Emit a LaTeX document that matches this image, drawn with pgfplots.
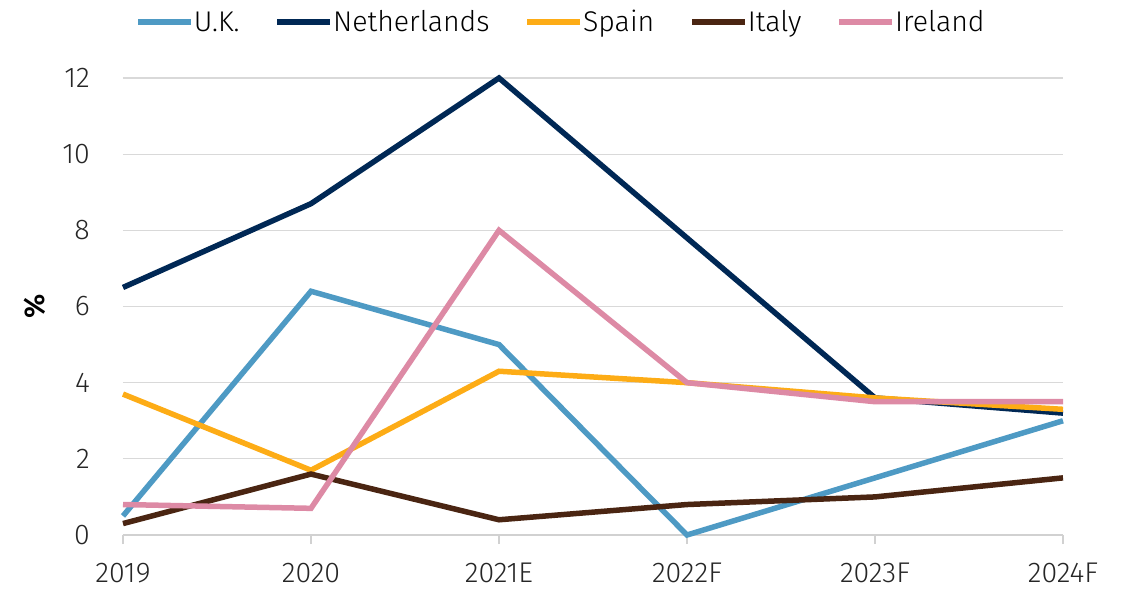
\documentclass[border=0pt]{standalone}
\usepackage{fontspec}
\setmainfont{Fira Sans Light}[BoldFont={Fira Sans SemiBold}]
\usepackage{pgfplots}
\pgfplotsset{compat=1.18}
\definecolor{cuk}{RGB}{78,154,196}
\definecolor{cnl}{RGB}{0,40,85}
\definecolor{csp}{RGB}{253,172,22}
\definecolor{cit}{RGB}{74,37,18}
\definecolor{cie}{RGB}{221,138,165}
\newcommand\ff{\fontsize{28.5bp}{33bp}\selectfont}
\begin{document}
\begin{tikzpicture}
\path[use as bounding box] (-123bp,-55bp) rectangle (1009bp,535bp);
\begin{axis}[
  scale only axis, width=940bp, height=457bp,
  xmin=0, xmax=5, ymin=0, ymax=12,
  xtick={0,1,2,3,4,5},
  xticklabels={2019,2020,2021E,2022F,2023F,2024F},
  ytick={0,2,4,6,8,10,12},
  /pgf/number format/assume math mode=true,
  axis x line*=bottom, axis y line*=left,
  y axis line style={draw=none},
  x axis line style={-, draw=black!18, line width=1.3bp},
  ymajorgrids, grid style={draw=black!15, line width=1.3bp},
  tick align=outside, major tick length=9bp,
  xtick style={draw=black!18, line width=1.3bp},
  ytick style={draw=none},
  tick label style={font=\ff, text=black!85},
  xticklabel style={anchor=base, inner sep=0pt, yshift=-38bp},
  yticklabel style={anchor=east, inner sep=0pt, xshift=-24bp},
  ylabel={\%},
  ylabel style={font=\ff\bfseries, at={(axis description cs:-0.0936,0.5)}, anchor=center, rotate=0},
  clip=false,
  every axis plot/.append style={line width=5.5bp},
  legend columns=-1,
  legend style={draw=none, fill=none, font=\ff, at={(axis description cs:0.466,1.1225)}, anchor=center,
    /tikz/every even column/.append style={column sep=33bp}, inner sep=0pt,
    /tikz/every odd column/.append style={column sep=-2bp}},
  legend image code/.code={\draw[#1, line width=5.5bp] (0bp,0bp) -- (53bp,0bp);},
]
\addplot[cuk] coordinates {(0,0.5) (1,6.4) (2,5.0) (3,0.0) (4,1.5) (5,3.0)};
\addplot[cnl] coordinates {(0,6.5) (1,8.7) (2,12.0) (3,7.8) (4,3.6) (5,3.2)};
\addplot[csp] coordinates {(0,3.7) (1,1.7) (2,4.3) (3,4.0) (4,3.6) (5,3.3)};
\addplot[cit] coordinates {(0,0.3) (1,1.6) (2,0.4) (3,0.8) (4,1.0) (5,1.5)};
\addplot[cie] coordinates {(0,0.8) (1,0.7) (2,8.0) (3,4.0) (4,3.5) (5,3.5)};
\legend{U.K.,Netherlands,Spain,Italy,Ireland}
\end{axis}
\end{tikzpicture}
\end{document}
